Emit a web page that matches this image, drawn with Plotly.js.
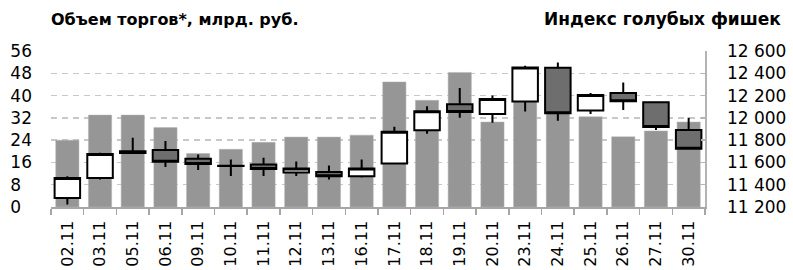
<!DOCTYPE html>
<html>
<head>
<meta charset="utf-8">
<script src="https://cdn.plot.ly/plotly-3.0.1.min.js"></script>
<style>html,body{margin:0;padding:0;background:#fff;}#chart{width:793px;height:270px;}</style>
</head>
<body>
<div id="chart"></div>
<script>
const dates = ["02.11","03.11","05.11","06.11","09.11","10.11","11.11","12.11","13.11","16.11",
               "17.11","18.11","19.11","20.11","23.11","24.11","25.11","26.11","27.11","30.11"];
const volume = [24.0, 33.0, 33.0, 28.5, 19.2, 20.7, 23.2, 25.1, 25.1, 25.8,
                44.9, 38.3, 48.3, 30.5, 40.0, 36.0, 32.4, 25.2, 27.3, 30.5];
const openV  = [11281, 11461, 11684, 11711, 11632, 11571, 11582, 11510, 11513, 11477,
                11591, 11888, 12123, 12035, 12146, 12450, 12065, 12222, 12141, 11891];
const highV  = [11477, 11686, 11822, 11792, 11672, 11627, 11641, 11609, 11573, 11627,
                11921, 12105, 12267, 12200, 12468, 12497, 12222, 12317, 12141, 12002];
const lowV   = [11222, 11447, 11677, 11560, 11531, 11479, 11479, 11479, 11447, 11465,
                11591, 11858, 12002, 11957, 12056, 11975, 12035, 12071, 11891, 11723];
const closeV = [11461, 11675, 11700, 11605, 11587, 11567, 11542, 11546, 11477, 11546,
                11876, 12059, 12053, 12170, 12452, 12041, 12206, 12150, 11918, 11723];
const leftTicks = [0, 8, 16, 24, 32, 40, 48, 56];
const leftTickText = ["0\u2007", "8\u2007", "16", "24", "32", "40", "48", "56"];
const rightTicks = [11200, 11400, 11600, 11800, 12000, 12200, 12400, 12600];
const rightTickText = ["11 200", "11 400", "11 600", "11 800", "12 000", "12 200", "12 400", "12 600"];

const FONT = "DejaVu Sans, Verdana, sans-serif";

const traces = [
  {
    type: "bar",
    x: dates,
    y: volume,
    marker: {color: "#969696", line: {color: "#b4b4b4", width: 0.5}},
    yaxis: "y",
    hoverinfo: "skip"
  },
  {
    type: "candlestick",
    x: dates,
    open: openV,
    high: highV,
    low: lowV,
    close: closeV,
    yaxis: "y2",
    whiskerwidth: 0,
    increasing: {line: {color: "#000000", width: 2}, fillcolor: "#ffffff"},
    decreasing: {line: {color: "#000000", width: 2}, fillcolor: "#6e6e6e"},
    hoverinfo: "skip"
  }
];

const layout = {
  width: 793,
  height: 270,
  margin: {l: 51, r: 88, t: 51, b: 63},
  paper_bgcolor: "#ffffff",
  plot_bgcolor: "#ffffff",
  showlegend: false,
  bargap: 0.29,
  boxgap: 0.22,
  boxgroupgap: 0,
  font: {family: FONT, color: "#000000"},
  xaxis: {
    type: "category",
    categoryorder: "array",
    categoryarray: dates,
    range: [-0.5, 19.5],
    rangeslider: {visible: false},
    showgrid: false,
    showline: true,
    linecolor: "#a6a6a6",
    linewidth: 1.5,
    ticks: "outside",
    tickson: "boundaries",
    ticklen: 6,
    tickcolor: "#a6a6a6",
    tickwidth: 1.5,
    tickangle: -90,
    tickfont: {family: FONT, size: 16, color: "#000"},
    ticklabelstandoff: 6,
    fixedrange: true
  },
  yaxis: {
    range: [0, 56],
    tickvals: leftTicks,
    ticktext: leftTickText,
    showgrid: true,
    gridcolor: "#c8c8c8",
    gridwidth: 1.5,
    griddash: "6px,5px",
    zeroline: false,
    showline: false,
    ticks: "",
    tickfont: {family: FONT, size: 17, color: "#000"},
    ticklabelstandoff: 18,
    fixedrange: true
  },
  yaxis2: {
    overlaying: "y",
    side: "right",
    range: [11200, 12600],
    tickvals: rightTicks,
    ticktext: rightTickText,
    showgrid: false,
    zeroline: false,
    showline: true,
    linecolor: "#b4b4b4",
    linewidth: 1.5,
    ticks: "inside",
    ticklen: 4,
    tickcolor: "#b4b4b4",
    tickwidth: 1.5,
    tickfont: {family: FONT, size: 17, color: "#000"},
    ticklabelstandoff: 17,
    fixedrange: true
  },
  annotations: [
    {
      text: "Объем торгов*, млрд. руб.",
      xref: "paper", yref: "paper",
      x: 0, y: 1, xanchor: "left", yanchor: "bottom",
      xshift: -2, yshift: 20,
      showarrow: false,
      font: {family: FONT, size: 16, color: "#000", weight: "bold"}
    },
    {
      text: "Индекс голубых фишек",
      xref: "paper", yref: "paper",
      x: 1, y: 1, xanchor: "right", yanchor: "bottom",
      xshift: 78, yshift: 20,
      showarrow: false,
      font: {family: FONT, size: 17, color: "#000", weight: "bold"}
    }
  ]
};

Plotly.newPlot("chart", traces, layout, {displayModeBar: false, staticPlot: true});
</script>
</body>
</html>
